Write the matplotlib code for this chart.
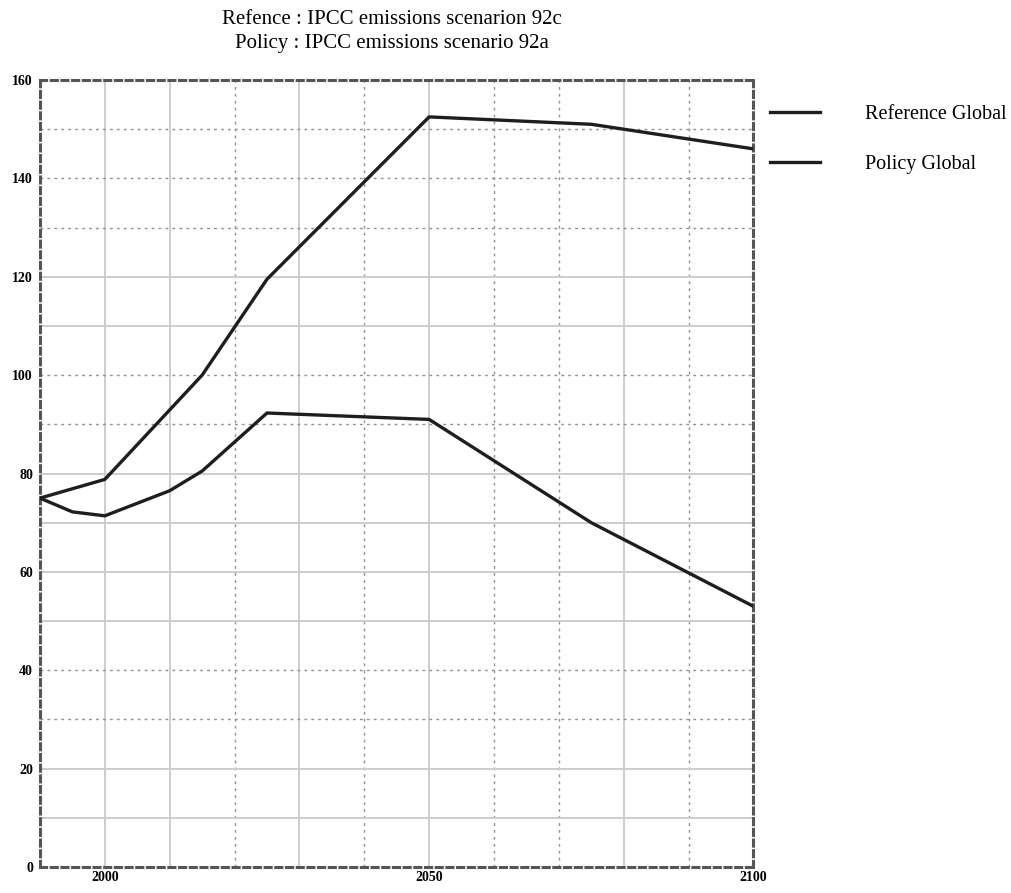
import matplotlib
matplotlib.use("Agg")
import matplotlib.pyplot as plt

# Data
ref_years = [1990, 2000, 2015, 2025, 2050, 2075, 2100]
ref_values = [75.0, 78.8, 100.0, 119.5, 152.5, 151.0, 146.0]
pol_years = [1990, 1995, 2000, 2010, 2015, 2025, 2050, 2075, 2100]
pol_values = [75.0, 72.2, 71.4, 76.5, 80.5, 92.3, 91.0, 70.0, 53.0]
series_labels = ["Reference Global", "Policy Global"]
title_lines = ["Refence : IPCC emissions scenarion 92c",
               "Policy : IPCC emissions scenario 92a"]
x_ticks = [2000, 2050, 2100]
y_ticks = [0, 20, 40, 60, 80, 100, 120, 140, 160]
vgrid_solid = [2000, 2010, 2030, 2050, 2080]
vgrid_dotted = [2020, 2040, 2060, 2070, 2090]
hgrid_solid = [10, 20, 50, 60, 70, 80, 110, 120]
hgrid_dotted = [30, 40, 90, 100, 130, 140, 150]

plt.rcParams['font.family'] = ['Liberation Serif', 'DejaVu Serif']

fig = plt.figure(figsize=(10.12, 8.93), dpi=100)
ax = fig.add_axes([0.0395, 0.0291, 0.705, 0.8813])
ax.set_xlim(1990, 2100)
ax.set_ylim(0, 160)

for x in vgrid_solid:
    ax.axvline(x, color='#cdcdcd', lw=1.4, zorder=1)
for x in vgrid_dotted:
    ax.axvline(x, color='#909090', lw=1.0, ls=(0, (2, 3)), zorder=1)
for y in hgrid_solid:
    ax.axhline(y, color='#cdcdcd', lw=1.4, zorder=1)
for y in hgrid_dotted:
    ax.axhline(y, color='#909090', lw=1.0, ls=(0, (2, 3)), zorder=1)

ax.plot(ref_years, ref_values, color='#1e1e1e', lw=2.4, label=series_labels[0], zorder=3)
ax.plot(pol_years, pol_values, color='#1e1e1e', lw=2.4, label=series_labels[1], zorder=3)

for side in ['left', 'right', 'top', 'bottom']:
    ax.spines[side].set_color('#555555')
    ax.spines[side].set_linewidth(2.2)
    ax.spines[side].set_linestyle((0, (2, 1.5)))

ax.set_xticks(x_ticks)
ax.set_xticklabels([str(v) for v in x_ticks], fontsize=10, fontweight='bold')
ax.set_yticks(y_ticks)
ax.set_yticklabels([str(v) for v in y_ticks], fontsize=10, fontweight='bold')
ax.tick_params(axis='both', length=0, pad=3)
ax.tick_params(axis='y', pad=5)

fig.text(0.387, 0.978, title_lines[0], ha='center', va='center', fontsize=15)
fig.text(0.387, 0.951, title_lines[1], ha='center', va='center', fontsize=15)

leg = fig.legend(loc='upper left', bbox_to_anchor=(0.761, 0.882), frameon=False,
                 handlelength=2.5, handletextpad=2.2, labelspacing=1.5, fontsize=14.5,
                 borderaxespad=0, borderpad=0)

fig.savefig("out.png", dpi=100)
